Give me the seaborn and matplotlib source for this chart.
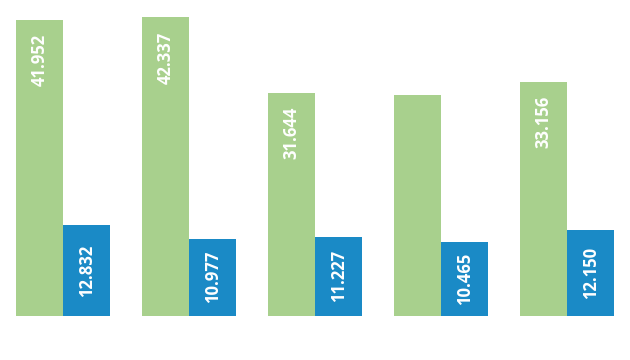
import pandas as pd
import matplotlib
matplotlib.use("Agg")
import matplotlib.pyplot as plt
import seaborn as sns

# data
groups = ["1", "2", "3", "4", "5"]
green_vals = [41.952, 42.337, 31.644, 31.4, 33.156]
blue_vals = [12.832, 10.977, 11.227, 10.465, 12.150]
green_labels = ["41.952", "42.337", "31.644", "", "33.156"]
blue_labels = ["12.832", "10.977", "11.227", "10.465", "12.150"]

df = pd.DataFrame({
    "group": groups * 2,
    "serie": ["verde"] * 5 + ["albastru"] * 5,
    "val": green_vals + blue_vals,
})

sns.set_style("white")
plt.rcParams["font.family"] = ["Open Sans", "DejaVu Sans"]

fig = plt.figure(figsize=(6.3, 3.6), dpi=100)
ax = fig.add_axes([0, 44 / 360, 1, 316 / 360])

sns.barplot(data=df, x="group", y="val", hue="serie",
            palette=["#a8d08d", "#1a8ac6"], width=0.75, gap=0,
            saturation=1, legend=False, linewidth=0, ax=ax)

ax.set_xlim(-0.5, 4.5)
ax.set_ylim(0, 44.8)
ax.axis("off")

green_bars, blue_bars = ax.containers

# green: label near the top, inside the bar
for p, txt in zip(green_bars, green_labels):
    ax.annotate(txt, (p.get_x() + p.get_width() / 2, p.get_height()),
                xytext=(0, -10), textcoords="offset points",
                rotation=90, ha="center", va="top", color="white",
                fontsize=12, fontweight="bold")

# blue: label centred in the bar
ax.bar_label(blue_bars, labels=blue_labels, label_type="center",
             rotation=90, color="white", fontsize=12, fontweight="bold")

fig.savefig("out.png", dpi=100)
